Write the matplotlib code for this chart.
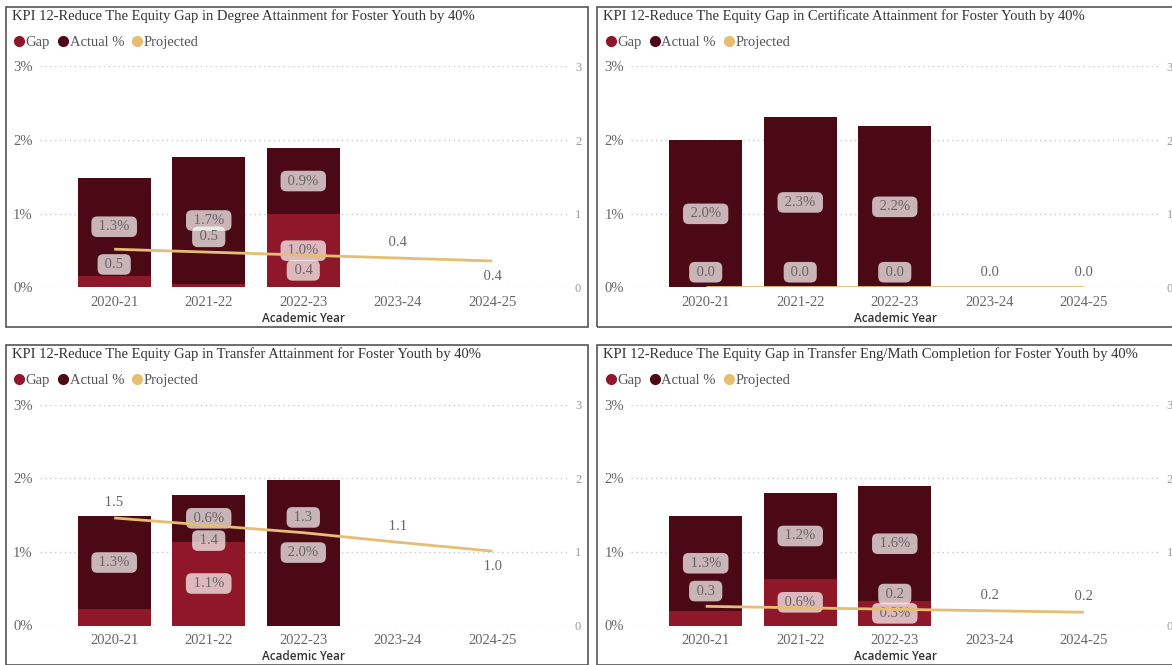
import matplotlib
matplotlib.use("Agg")
import matplotlib.pyplot as plt
from matplotlib.lines import Line2D
from matplotlib.patches import Rectangle
from matplotlib.ticker import FuncFormatter

W, H = 1172, 665

years = ['2020-21', '2021-22', '2022-23', '2023-24', '2024-25']

degree_title = 'KPI 12-Reduce The Equity Gap in Degree Attainment for Foster Youth by 40%'
degree_gap = [0.16, 0.05, 1.0]
degree_actual = [1.33, 1.72, 0.89]
degree_proj = [0.52, 0.48, 0.44, 0.40, 0.36]

cert_title = 'KPI 12-Reduce The Equity Gap in Certificate Attainment for Foster Youth by 40%'
cert_gap = [0.0, 0.0, 0.0]
cert_actual = [2.0, 2.31, 2.19]
cert_proj = [0.0, 0.0, 0.0, 0.0, 0.0]

transfer_title = 'KPI 12-Reduce The Equity Gap in Transfer Attainment for Foster Youth by 40%'
transfer_gap = [0.22, 1.14, 0.0]
transfer_actual = [1.27, 0.63, 1.98]
transfer_proj = [1.46, 1.36, 1.26, 1.13, 1.01]

engmath_title = 'KPI 12-Reduce The Equity Gap in Transfer Eng/Math Completion for Foster Youth by 40%'
engmath_gap = [0.2, 0.63, 0.33]
engmath_actual = [1.29, 1.17, 1.56]
engmath_proj = [0.26, 0.24, 0.22, 0.20, 0.18]

GAP_C = '#8E1729'
ACT_C = '#4B0815'
PROJ_C = '#E4BE72'
SERIF = 'Liberation Serif'

plt.rcParams['font.family'] = SERIF

fig = plt.figure(figsize=(W / 100, H / 100), dpi=100)


def panel(px, py, box_w, title, gap, actual, proj, proj_side):
    # px, py: pixel position of the panel's top-left border corner
    ax_left = px + 34
    ax_top = py + 60
    ax = fig.add_axes([ax_left / W, 1 - (ax_top + 221) / H, 528.5 / W, 221 / H])
    ax2 = ax.twinx()

    x_bars = range(len(gap))
    ax.bar(x_bars, gap, width=0.77, color=GAP_C, zorder=2)
    ax.bar(x_bars, actual, width=0.77, bottom=gap, color=ACT_C, zorder=2)

    box = dict(boxstyle='round,pad=0.26,rounding_size=0.4', fc='white', ec='none', alpha=0.7)
    for i in x_bars:
        ax.text(i, gap[i] + actual[i] / 2, f' {actual[i]:.1f}% ', ha='center', va='center',
                fontsize=10.5, color='#666666', bbox=box, zorder=5)
        if gap[i] >= 0.3:
            ax.text(i, gap[i] / 2, f' {gap[i]:.1f}% ', ha='center', va='center',
                    fontsize=10.5, color='#666666', bbox=box, zorder=5)

    ax2.plot(range(len(proj)), proj, color=PROJ_C, lw=2, zorder=3, solid_capstyle='butt')
    for i, v in enumerate(proj):
        if proj_side[i] == 0:
            continue
        ax2.annotate(f' {v:.1f} ', (i, v), xytext=(0, 11 * proj_side[i]), textcoords='offset points',
                     ha='center', va='center', fontsize=10.5, color='#666666', bbox=box, zorder=6)

    for a in (ax, ax2):
        a.set_xlim(-0.79, 4.8)
        a.set_ylim(0, 3)
        a.set_yticks([0, 1, 2, 3])
        for s in a.spines.values():
            s.set_visible(False)
        a.tick_params(length=0)
    ax.yaxis.set_major_formatter(FuncFormatter(lambda v, p: f'{v:.0f}%'))
    ax.tick_params(axis='y', labelsize=10.5, labelcolor='#666666', pad=5)
    ax2.tick_params(axis='y', labelsize=9, labelcolor='#9a9a9a', pad=5)
    ax.set_xticks(range(len(years)))
    ax.set_xticklabels(years)
    ax.tick_params(axis='x', labelsize=10.5, labelcolor='#666666', pad=6)
    ax.grid(axis='y', linestyle=(0, (1, 2.5)), color='#c8c8c8', lw=1, zorder=0)
    ax.set_axisbelow(True)
    ax.set_xlabel('Academic Year', family='Open Sans', weight='semibold', fontsize=8.5,
                  color='#333333', labelpad=2)

    fig.text((px + 6) / W, 1 - (py + 10) / H, title, fontsize=10.5, color='#333333',
             ha='left', va='center')
    handles = [Line2D([], [], ls='none', marker='o', ms=7, color=c) for c in (GAP_C, ACT_C, PROJ_C)]
    fig.legend(handles, ['Gap', 'Actual %', 'Projected'], loc='center left', ncol=3,
               bbox_to_anchor=((px + 2) / W, 1 - (py + 36) / H), frameon=False,
               handlelength=0.6, handletextpad=0.15, columnspacing=0.6, borderpad=0,
               prop={'family': SERIF, 'size': 10.5}, labelcolor='#555555')
    fig.add_artist(Rectangle((px / W, 1 - (py + 320) / H), box_w / W, 320 / H,
                             transform=fig.transFigure, fill=False, ec='#555555', lw=1.2))


panel(5.5, 6.5, 582, degree_title, degree_gap, degree_actual, degree_proj, [-1, 1, -1, 1, -1])
panel(597, 6.5, 600, cert_title, cert_gap, cert_actual, cert_proj, [1, 1, 1, 1, 1])
panel(5.5, 344.5, 582, transfer_title, transfer_gap, transfer_actual, transfer_proj, [1, -1, 1, 1, -1])
panel(597, 344.5, 600, engmath_title, engmath_gap, engmath_actual, engmath_proj, [1, 0, 1, 1, 1])

fig.savefig('out.png', dpi=100)
